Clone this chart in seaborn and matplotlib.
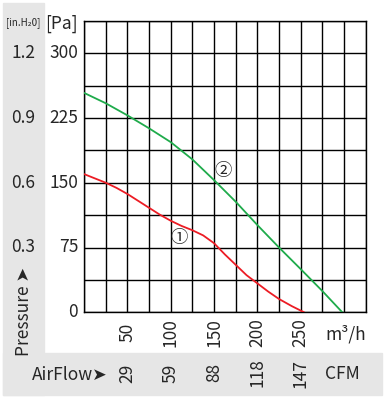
import numpy as np
import pandas as pd
import matplotlib.pyplot as plt
import matplotlib.transforms as mtransforms
from matplotlib.patches import Rectangle
import seaborn as sns

sns.set_theme(style="white")
plt.rcParams['font.family'] = ['Noto Sans CJK SC', 'DejaVu Sans']

# ---- data ----
flow_1 = [0, 12.5, 25, 37.5, 50, 62.5, 75, 87.5, 100, 112.5, 125, 137.5, 150,
          162.5, 175, 187.5, 200, 212.5, 225, 240, 254]
pa_1 = [160, 155, 150, 144, 137, 129, 121, 113, 106, 100, 95, 89, 80,
        67, 55, 43, 33.5, 24, 15.4, 7, 0]

flow_2 = [0, 25, 50, 75, 100, 125, 150, 175, 200, 225, 250, 275, 298]
pa_2 = [254, 242, 228, 213, 197, 177, 153, 128, 101, 75, 50, 24.6, 0]

m3h_ticks = [50, 100, 150, 200, 250]
cfm_labels = ['29', '59', '88', '118', '147']
pa_ticks = [0, 75, 150, 225, 300]
inh2o_labels = ['', '0.3', '0.6', '0.9', '1.2']

curves = pd.concat([
    pd.DataFrame({'flow': flow_1, 'pa': pa_1, 'curve': '1'}),
    pd.DataFrame({'flow': flow_2, 'pa': pa_2, 'curve': '2'}),
], ignore_index=True)

W, H = 388, 399
fig = plt.figure(figsize=(W / 100, H / 100), dpi=100)
fig.patch.set_facecolor('white')

# gray L-shaped label band
gray = '#e6e6e6'
fig.patches.append(Rectangle((3 / W, 1 - 395 / H), 41 / W, 392 / H,
                             transform=fig.transFigure, color=gray, zorder=0))
fig.patches.append(Rectangle((3 / W, 1 - 395 / H), 379 / W, 42 / H,
                             transform=fig.transFigure, color=gray, zorder=0))

ax = fig.add_axes([84 / W, 1 - 312.3 / H, 281.7 / W, 291.6 / H])
sns.lineplot(data=curves, x='flow', y='pa', hue='curve',
             palette={'1': '#ec1c24', '2': '#1fab4b'}, linewidth=1.3,
             legend=False, ax=ax, zorder=3)

ax.set_xlim(0, 325)
ax.set_ylim(0, 337.5)
ax.set_xticks(np.arange(0, 326, 25))
ax.set_yticks(np.arange(0, 338, 37.5))
ax.tick_params(length=0, labelbottom=False, labelleft=False)
ax.grid(True, color='black', linewidth=1.0)
for s in ax.spines.values():
    s.set_color('black')
    s.set_linewidth(1.0)
ax.set_xlabel('')
ax.set_ylabel('')

fs = 12.5
# Pa labels and in.H2O labels
ytr = mtransforms.blended_transform_factory(fig.transFigure, ax.transData)
for v, lab in zip(pa_ticks, inh2o_labels):
    fig.text(78 / W, v, str(v), transform=ytr, ha='right', va='center', fontsize=fs)
    if lab:
        fig.text(23.5 / W, v, lab, transform=ytr, ha='center', va='center', fontsize=fs)

# flow labels
xtr = mtransforms.blended_transform_factory(ax.transData, fig.transFigure)
for v, lab in zip(m3h_ticks, cfm_labels):
    fig.text(v, 1 - 332.5 / H, str(v), transform=xtr, rotation=90,
             ha='center', va='center', fontsize=fs)
    fig.text(v, 1 - 373 / H, lab, transform=xtr, rotation=90,
             ha='center', va='center', fontsize=fs)

fig.text(325 / W, 1 - 334 / H, 'm³/h', ha='left', va='center', fontsize=fs)
fig.text(325 / W, 1 - 374 / H, 'CFM', ha='left', va='center', fontsize=fs)
fig.text(32 / W, 1 - 375 / H, 'AirFlow➤', ha='left', va='center', fontsize=fs)
fig.text(23.5 / W, 1 - 312 / H, 'Pressure ➤', rotation=90,
         ha='center', va='center', fontsize=fs)
fig.text(23.5 / W, 1 - 23 / H, '[in.H₂0]', ha='center', va='center',
         fontsize=7)
fig.text(78 / W, 1 - 24 / H, '[Pa]', ha='right', va='center', fontsize=fs)

# curve markers
ax.text(160, 164, '②', ha='center', va='center', fontsize=fs)
ax.text(110, 86, '①', ha='center', va='center', fontsize=fs)

fig.savefig('out.png', dpi=100)
